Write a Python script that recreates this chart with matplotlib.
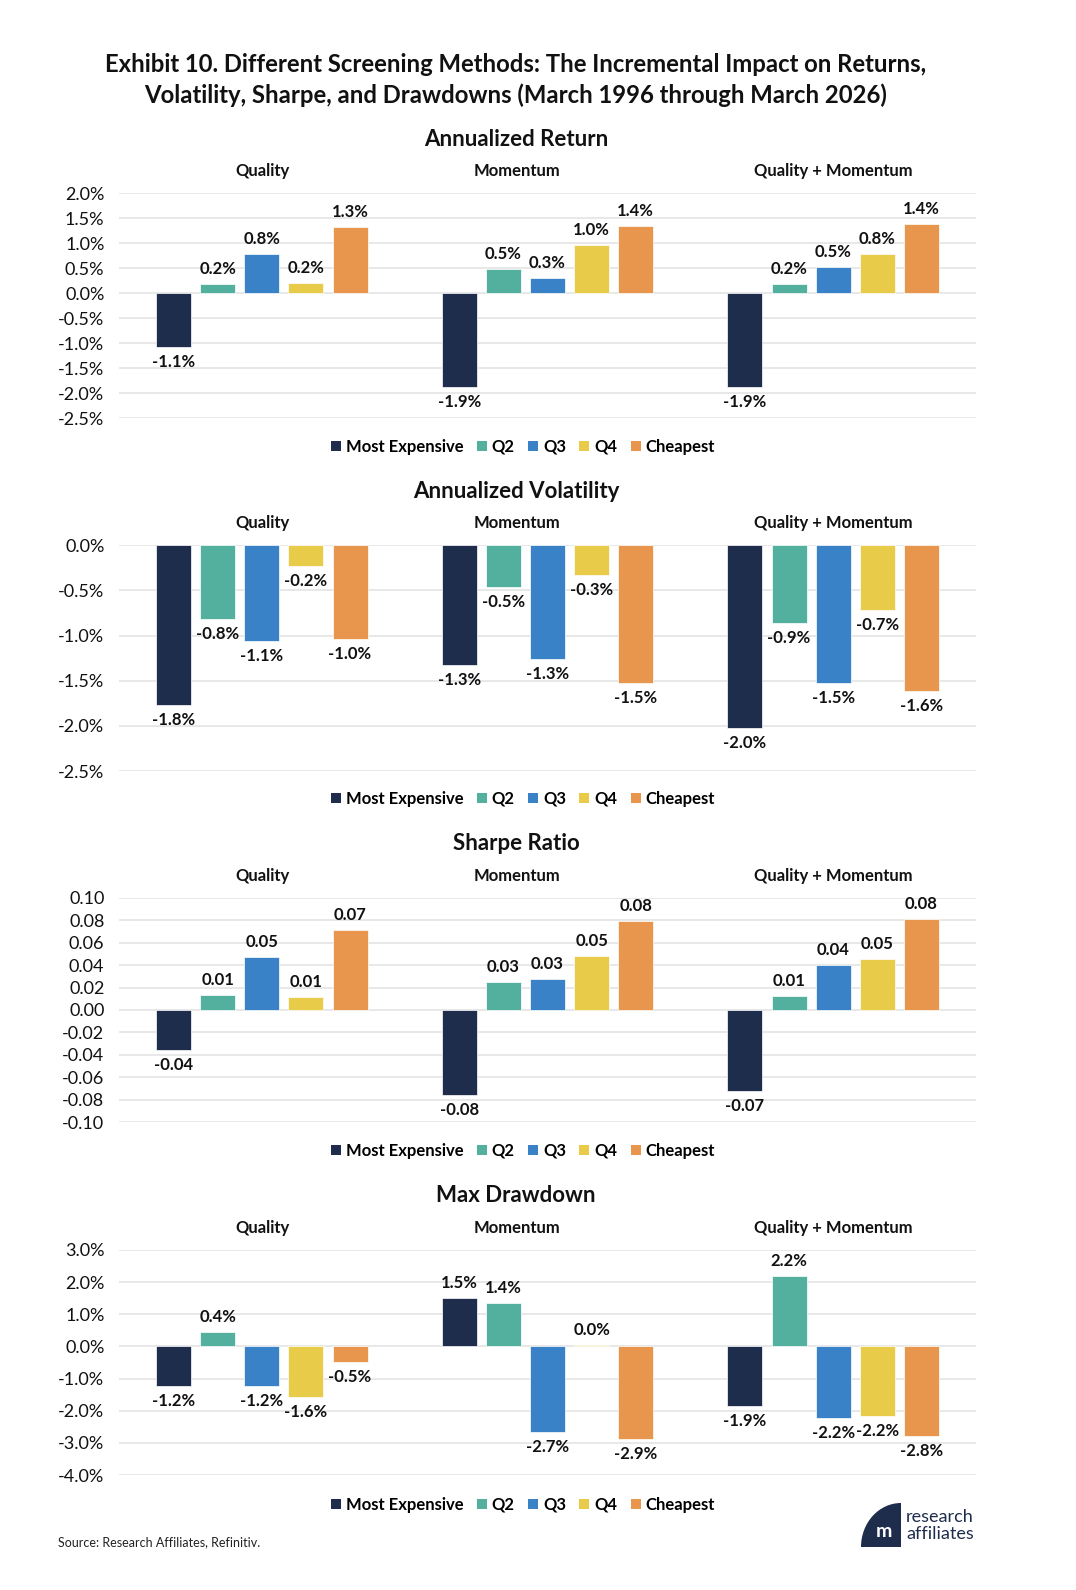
import matplotlib
matplotlib.use("Agg")
import matplotlib.pyplot as plt
import numpy as np
from matplotlib.patches import Patch, Wedge

plt.rcParams['font.family'] = ['Lato', 'DejaVu Sans']

# ---------------- data ----------------
groups = ["Quality", "Momentum", "Quality + Momentum"]
series = ["Most Expensive", "Q2", "Q3", "Q4", "Cheapest"]
colors = ["#1E2D4B", "#53B09E", "#3A82C8", "#E8CB48", "#E8964E"]

ret_me = [-1.08, -1.88, -1.88]
ret_q2 = [0.18, 0.49, 0.19]
ret_q3 = [0.78, 0.31, 0.53]
ret_q4 = [0.20, 0.96, 0.79]
ret_ch = [1.32, 1.35, 1.39]

vol_me = [-1.77, -1.33, -2.02]
vol_q2 = [-0.82, -0.46, -0.86]
vol_q3 = [-1.06, -1.26, -1.53]
vol_q4 = [-0.23, -0.33, -0.72]
vol_ch = [-1.04, -1.53, -1.61]

shp_me = [-0.036, -0.0755, -0.0719]
shp_q2 = [0.0133, 0.0251, 0.0127]
shp_q3 = [0.047, 0.0272, 0.040]
shp_q4 = [0.0112, 0.0482, 0.0452]
shp_ch = [0.071, 0.0793, 0.0808]

dd_me = [-1.22, 1.50, -1.85]
dd_q2 = [0.44, 1.36, 2.18]
dd_q3 = [-1.22, -2.67, -2.23]
dd_q4 = [-1.56, 0.03, -2.16]
dd_ch = [-0.48, -2.89, -2.78]

ret_ticks = [2.0, 1.5, 1.0, 0.5, 0.0, -0.5, -1.0, -1.5, -2.0, -2.5]
vol_ticks = [0.0, -0.5, -1.0, -1.5, -2.0, -2.5]
shp_ticks = [0.10, 0.08, 0.06, 0.04, 0.02, 0.00, -0.02, -0.04, -0.06, -0.08, -0.10]
dd_ticks = [3.0, 2.0, 1.0, 0.0, -1.0, -2.0, -3.0, -4.0]

panels = [
    dict(title="Annualized Return", data=[ret_me, ret_q2, ret_q3, ret_q4, ret_ch],
         ticks=ret_ticks, fmt="{:.1f}%", tfmt="{:.1f}%", top=193.3, bot=418.3, ty=139, ly=447),
    dict(title="Annualized Volatility", data=[vol_me, vol_q2, vol_q3, vol_q4, vol_ch],
         ticks=vol_ticks, fmt="{:.1f}%", tfmt="{:.1f}%", top=545.3, bot=771.0, ty=491, ly=799),
    dict(title="Sharpe Ratio", data=[shp_me, shp_q2, shp_q3, shp_q4, shp_ch],
         ticks=shp_ticks, fmt="{:.2f}", tfmt="{:.2f}", top=897.7, bot=1122.3, ty=844, ly=1151),
    dict(title="Max Drawdown", data=[dd_me, dd_q2, dd_q3, dd_q4, dd_ch],
         ticks=dd_ticks, fmt="{:.1f}%", tfmt="{:.1f}%", top=1250.0, bot=1475.0, ty=1196, ly=1505),
]

W, H = 1076, 1590
fig = plt.figure(figsize=(W / 100, H / 100), dpi=100)
fig.patch.set_facecolor("white")

def fy(py):
    return 1 - py / H

ax_left, ax_right = 119, 976
x = np.arange(len(groups))
bw = 0.1228
step = 0.1544
title_x = 516 / W
sub_x = [263, 517, 833]
text_col = "#111111"

fig.text(title_x, fy(65), "Exhibit 10. Different Screening Methods: The Incremental Impact on Returns,",
         ha="center", va="center", fontsize=17.2, fontweight="bold", color=text_col)
fig.text(title_x, fy(95), "Volatility, Sharpe, and Drawdowns (March 1996 through March 2026)",
         ha="center", va="center", fontsize=17.2, fontweight="bold", color=text_col)

for p in panels:
    ax = fig.add_axes([ax_left / W, fy(p["bot"]), (ax_right - ax_left) / W, (p["bot"] - p["top"]) / H])
    ticks = p["ticks"]
    ax.set_ylim(min(ticks), max(ticks))
    ax.set_xlim(-0.5, len(groups) - 0.5)
    ax.set_yticks(ticks)
    ax.set_yticklabels([p["tfmt"].format(t) for t in ticks])
    ax.set_xticks([])
    for s in ax.spines.values():
        s.set_visible(False)
    ax.tick_params(axis="y", length=0, pad=10.5, labelsize=13, labelcolor=text_col)
    ax.yaxis.grid(True, color="#E4E4E4", linewidth=1.2)
    ax.set_axisbelow(True)
    for k, (vals, col) in enumerate(zip(p["data"], colors)):
        pos = x + (k - 2) * step
        ax.bar(pos, vals, width=bw, color=col, edgecolor="white", linewidth=0.5, zorder=3)
        for xi, v in zip(pos, vals):
            off = 10.8 if v >= 0 else -10.8
            ax.annotate(p["fmt"].format(v), xy=(xi, v), xytext=(0, off), textcoords="offset points",
                        ha="center", va="center", fontsize=12, fontweight="bold", color=text_col)
    sub_y = p["top"] - 22
    for sx, g in zip(sub_x, groups):
        fig.text(sx / W, fy(sub_y), g, ha="center", va="center",
                 fontsize=12, fontweight="bold", color=text_col)
    fig.text(title_x, fy(p["ty"]), p["title"], ha="center", va="center",
             fontsize=16, fontweight="bold", color=text_col)
    handles = [Patch(facecolor=c, edgecolor="none", label=s) for s, c in zip(series, colors)]
    fig.legend(handles=handles, loc="center", bbox_to_anchor=(523 / W, fy(p["ly"])), ncol=5,
               frameon=False, handlelength=0.6, handleheight=0.6,
               handletextpad=0.3, columnspacing=0.8, prop=dict(size=12, weight="bold"))

fig.text(58 / W, fy(1542), "Source: Research Affiliates, Refinitiv.", ha="left", va="center",
         fontsize=9, color="#222222")

# logo
navy = "#1E2D4B"
lax = fig.add_axes([861 / W, fy(1547), 40 / W, 44 / H])
lax.set_xlim(0, 1)
lax.set_ylim(0, 1)
lax.axis("off")
lax.add_patch(Wedge((1, 0), 1.0, 90, 180, facecolor=navy, edgecolor="none"))
lax.text(0.58, 0.35, "m", color="white", ha="center", va="center", fontsize=14, fontweight="bold")
fig.text(906 / W, fy(1517), "research", ha="left", va="center", fontsize=13, color=navy)
fig.text(906 / W, fy(1534), "affiliates", ha="left", va="center", fontsize=13, color=navy)

fig.savefig("out.png", dpi=100, facecolor="white")
